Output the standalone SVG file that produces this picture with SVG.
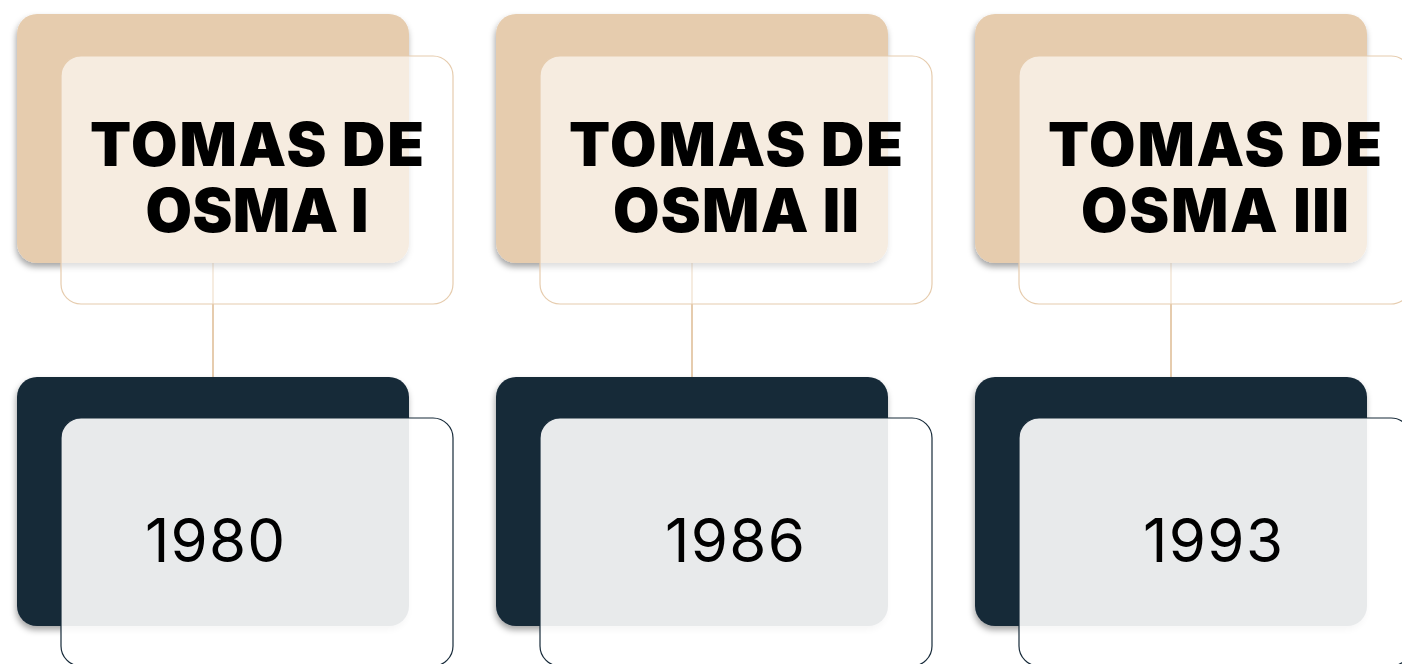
<svg xmlns="http://www.w3.org/2000/svg" width="1402" height="664" viewBox="0 0 1402 664">
<defs>
<filter id="sh" x="-10%" y="-10%" width="120%" height="125%">
<feDropShadow dx="-1" dy="4" stdDeviation="3" flood-color="#000" flood-opacity="0.35"/>
</filter>
</defs>
<style>
.bt{fill:#E6CCAE;filter:url(#sh)}
.ft{fill:#FFFFFF;fill-opacity:0.62;stroke:#E6CCAE;stroke-width:1.2}
.bd{fill:#172A39;filter:url(#sh)}
.fd{fill:#FFFFFF;fill-opacity:0.9;stroke:#172A39;stroke-width:1.2}
.title{font-family:Inter,"Liberation Sans",Arial,sans-serif;font-weight:900;font-size:60px;fill:#000;text-anchor:middle}
.year{font-family:Inter,"Liberation Sans",Arial,sans-serif;font-weight:400;font-size:60px;fill:#000;text-anchor:middle}
.conn{stroke:#E6CCAE;stroke-width:2;fill:none}
</style>
<rect width="1402" height="664" fill="#FFFFFF"/>
<g id="connectors">
<line class="conn" x1="213" y1="263" x2="213" y2="377"/>
<line class="conn" x1="692" y1="263" x2="692" y2="377"/>
<line class="conn" x1="1171" y1="263" x2="1171" y2="377"/>
</g>
<g id="title1">
<rect class="bt" x="17" y="14" width="392" height="249" rx="20"/>
<rect class="ft" x="61" y="56" width="392" height="248" rx="20"/>
<text class="title" x="257" y="166" textLength="334" lengthAdjust="spacing">TOMAS DE</text>
<text class="title" x="257" y="232" textLength="223" lengthAdjust="spacing">OSMA I</text>
</g>
<g id="title2">
<rect class="bt" x="496" y="14" width="392" height="249" rx="20"/>
<rect class="ft" x="540" y="56" width="392" height="248" rx="20"/>
<text class="title" x="736" y="166" textLength="334" lengthAdjust="spacing">TOMAS DE</text>
<text class="title" x="736" y="232" textLength="246" lengthAdjust="spacing">OSMA II</text>
</g>
<g id="title3">
<rect class="bt" x="975" y="14" width="392" height="249" rx="20"/>
<rect class="ft" x="1019" y="56" width="392" height="248" rx="20"/>
<text class="title" x="1215" y="166" textLength="334" lengthAdjust="spacing">TOMAS DE</text>
<text class="title" x="1215" y="232" textLength="268" lengthAdjust="spacing">OSMA III</text>
</g>
<g id="year1">
<rect class="bd" x="17" y="377" width="392" height="249" rx="20"/>
<rect class="fd" x="61" y="418" width="392" height="248" rx="20"/>
<text class="year" x="215" y="562" textLength="140" lengthAdjust="spacing">1980</text>
</g>
<g id="year2">
<rect class="bd" x="496" y="377" width="392" height="249" rx="20"/>
<rect class="fd" x="540" y="418" width="392" height="248" rx="20"/>
<text class="year" x="735" y="562" textLength="140" lengthAdjust="spacing">1986</text>
</g>
<g id="year3">
<rect class="bd" x="975" y="377" width="392" height="249" rx="20"/>
<rect class="fd" x="1019" y="418" width="392" height="248" rx="20"/>
<text class="year" x="1213" y="562" textLength="140" lengthAdjust="spacing">1993</text>
</g>
</svg>
